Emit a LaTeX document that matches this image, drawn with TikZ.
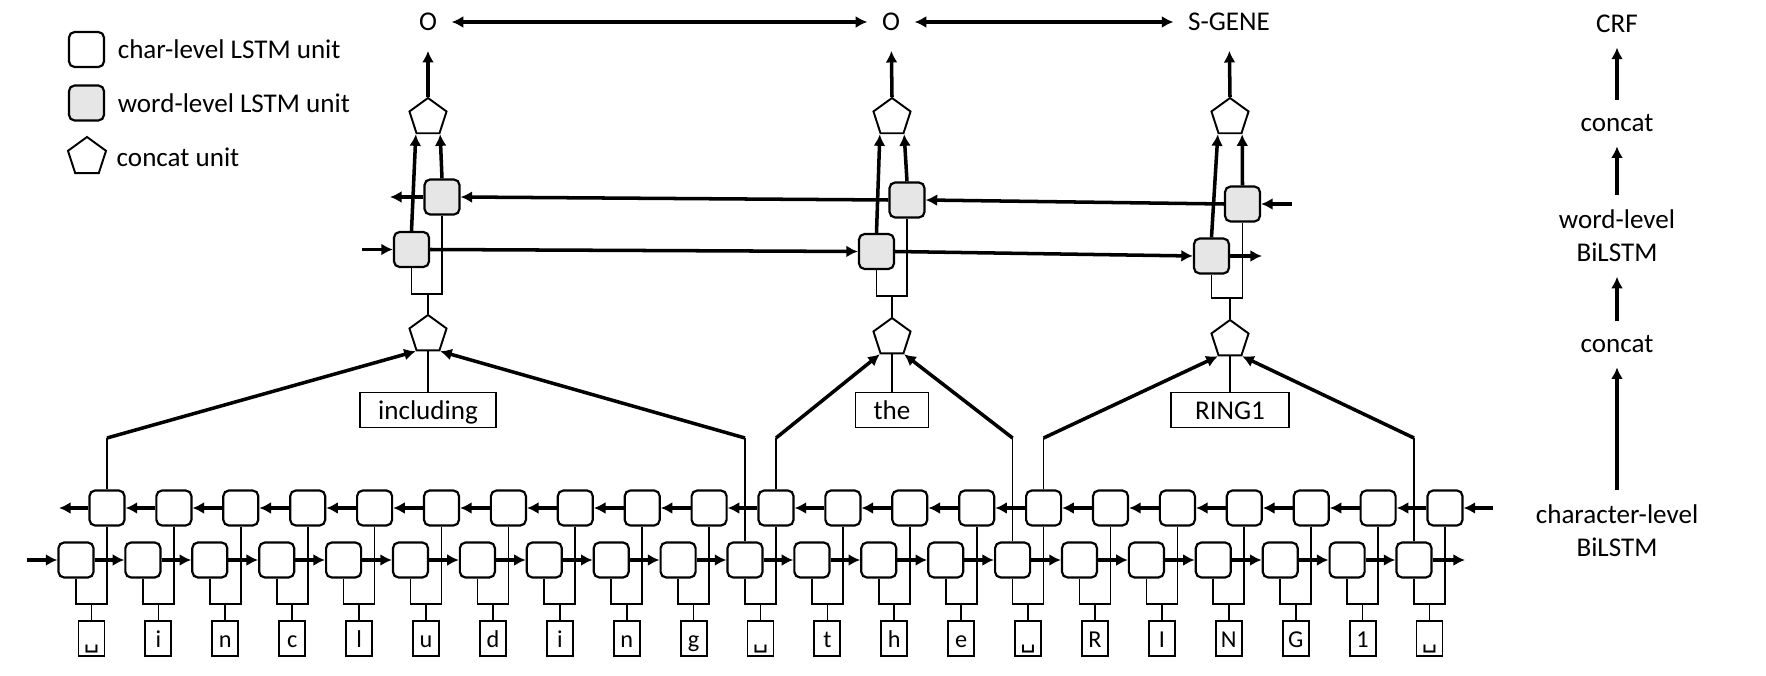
\documentclass[tikz,border=0pt]{standalone}
\usepackage{fontspec}
\setmainfont{Carlito}
\newfontfamily\spacefont{DejaVu Sans}
\usepackage{xcolor}
\usepackage{tikz}
\usetikzlibrary{positioning,shapes.geometric,arrows.meta}
\definecolor{wordgray}{RGB}{230,230,230}
\newcommand\figfont{\fontsize{7.7}{9.4}\selectfont}
\newcommand\spc{{\spacefont ␣}}
\tikzset{
	>={Latex[length=3.3pt,width=3.4pt]},
	thickarrow/.style={->, line width=1pt},
	thinline/.style={line width=0.48pt},
	tag/.style={inner sep=0.14cm, font=\figfont, align=center}
}

\begin{document}
\begin{tikzpicture}[
	x=0.01cm, y=-0.01cm,
	charunit/.style={rectangle, rounded corners=1.6pt, draw=black, line width=0.62pt, fill=white, minimum size=0.35cm, inner sep=0pt},
	wordunit/.style={charunit, fill=wordgray},
	concatunit/.style={regular polygon, regular polygon sides=5, draw=black, line width=0.55pt, fill=white, minimum size=0.39cm, inner sep=0pt},
	letterbox/.style={rectangle, draw=black, line width=0.55pt, minimum width=0.26cm, minimum height=0.35cm, inner sep=0pt, text height=0.2cm, text depth=0.024cm, font=\fontsize{6.9}{8}\selectfont},
	wordbox/.style={rectangle, draw=black, line width=0.55pt, minimum width=#1, minimum height=0.35cm, inner sep=0pt, text height=0.23cm, text depth=0.05cm, font=\figfont},
	]
	\useasboundingbox (0,0) rectangle (1766,676);
	
	%Legend
	\node[charunit]   (lchar)   at (86.5,49.5) {};
	\node[wordunit]   (lword)   at (86.5,103)  {};
	\node[concatunit, minimum size=0.4cm] (lcat) at (87,157) {};
	\node[font=\figfont, inner sep=0pt, right=0.12cm of lchar] {char-level LSTM unit};
	\node[font=\figfont, inner sep=0pt, right=0.12cm of lword] {word-level LSTM unit};
	\node[font=\figfont, inner sep=0pt, right=0.11cm of lcat]  {concat unit};
	
	%Character level nodes
	\foreach \c [count=\i from 0] in {\spc,i,n,c,l,u,d,i,n,g,\spc,t,h,e,\spc,R,I,N,G,1,\spc}{
		\node[charunit]  (cf\i) at ({76+66.9*\i},560)   {};
		\node[charunit]  (cb\i) at ({107+66.9*\i},508)  {};
		\node[letterbox] (ch\i) at ({91.5+66.9*\i},638.5) {\c};
		\coordinate (cj\i) at ({91.5+66.9*\i},604);
		\draw[thinline] (cf\i.south) |- (cj\i) -| (cb\i.south);
		\draw[thinline] (cj\i) -- (ch\i.north);
	}
	
	%Character level lines
	\foreach \i in {0,...,19}{
		\pgfmathtruncatemacro\j{\i+1}
		\draw[thickarrow] (cf\i.east) -- (cf\j.west);
		\draw[thickarrow] (cb\j.west) -- (cb\i.east);
	}
	\coordinate (cfin)  at (27,560);
	\coordinate (cfout) at (1465,560);
	\coordinate (cbin)  at (1493,508);
	\coordinate (cbout) at (59,508);
	\draw[thickarrow] (cfin) -- (cf0.west);
	\draw[thickarrow] (cf20.east) -- (cfout);
	\draw[thickarrow] (cbin) -- (cb20.east);
	\draw[thickarrow] (cb0.west) -- (cbout);
	
	%Word level nodes
	\node[wordunit] (wf1) at (411.5,249.5) {};
	\node[wordunit] (wb1) at (442,197)     {};
	\node[wordunit] (wf2) at (876.5,251.5) {};
	\node[wordunit] (wb2) at (907,200)     {};
	\node[wordunit] (wf3) at (1211.5,256)  {};
	\node[wordunit] (wb3) at (1242.5,204)  {};
	
	\node[concatunit] (pt1) at (428,117.5) {};
	\node[concatunit] (pt2) at (892,117.5) {};
	\node[concatunit] (pt3) at (1230,117.5) {};
	\node[concatunit] (pb1) at (428,334.5) {};
	\node[concatunit] (pb2) at (892,337.5) {};
	\node[concatunit] (pb3) at (1230,339.5) {};
	
	\node[wordbox=1.35cm] (wd1) at (428,410)  {including};
	\node[wordbox=0.73cm] (wd2) at (892,410)  {the};
	\node[wordbox=1.18cm] (wd3) at (1230,410) {RING1};
	
	\node[tag] (o1) at (428,22)  {O};
	\node[tag] (o2) at (891,22)  {O};
	\node[tag] (sg) at (1229,22) {S-GENE};
	
	%Word level lines
	\coordinate (wfin)  at (362,249.5);
	\coordinate (wfout) at (1262,256);
	\coordinate (wbin)  at (1292,204);
	\coordinate (wbout) at (390,197);
	\draw[thickarrow] (wfin) -- (wf1.west);
	\draw[thickarrow] (wf1.east) -- (wf2.west);
	\draw[thickarrow] (wf2.east) -- (wf3.west);
	\draw[thickarrow] (wf3.east) -- (wfout);
	\draw[thickarrow] (wbin) -- (wb3.east);
	\draw[thickarrow] (wb3.west) -- (wb2.east);
	\draw[thickarrow] (wb2.west) -- (wb1.east);
	\draw[thickarrow] (wb1.west) -- (wbout);
	
	\coordinate (knee) at (0,438);
	\foreach \w/\jy/\bl/\fr in {1/294/0/10, 2/296/10/14, 3/298/14/20}{
		\coordinate (wj\w) at (pb\w.north |- 0,\jy);
		\draw[thinline] (wf\w.south) |- (wj\w) -| (wb\w.south);
		\draw[thinline] (wj\w) -- (pb\w.north);
		\draw[thinline] (pb\w.south) -- (wd\w.north);
		\draw[thickarrow] (wf\w.north) -- (pt\w.corner 3);
		\draw[thickarrow] (wb\w.north) -- (pt\w.corner 4);
		%from the char level
		\draw[thinline] (cb\bl.north) -- (cb\bl.north |- knee);
		\draw[thickarrow] (cb\bl.north |- knee) -- (pb\w.corner 3);
		\draw[thinline] (cf\fr.north) -- (cf\fr.north |- knee);
		\draw[thickarrow] (cf\fr.north |- knee) -- (pb\w.corner 4);
	}
	\draw[thickarrow, shorten >=1.5pt] (pt1.north) -- (o1);
	\draw[thickarrow, shorten >=1.5pt] (pt2.north) -- (o2);
	\draw[thickarrow, shorten >=1.5pt] (pt3.north) -- (sg);
	\draw[thickarrow, <->] (o1) -- (o2);
	\draw[thickarrow, <->] (o2) -- (sg);
	
	%Layer names
	\node[tag] (crf) at (1617,24)  {CRF};
	\node[tag] (cc2) at (1617,123) {concat};
	\node[tag] (wl)  at (1617,236) {word-level\\BiLSTM};
	\node[tag] (cc1) at (1617,344) {concat};
	\node[tag] (cl)  at (1617,531) {character-level\\BiLSTM};
	\draw[thickarrow] (cl) -- (cc1);
	\draw[thickarrow] (cc1) -- (wl);
	\draw[thickarrow] (wl) -- (cc2);
	\draw[thickarrow] (cc2) -- (crf);
\end{tikzpicture}
\end{document}
